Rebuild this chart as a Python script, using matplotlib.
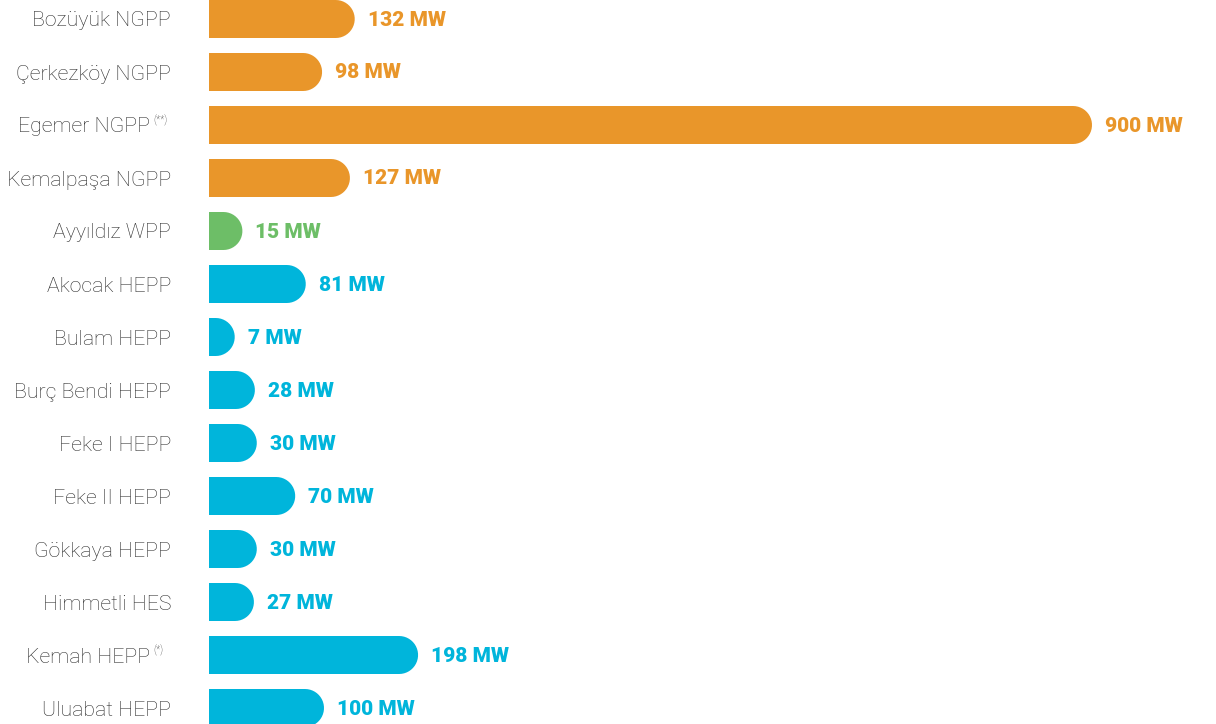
import matplotlib
matplotlib.use("Agg")
import matplotlib.pyplot as plt
from matplotlib.path import Path
from matplotlib.patches import PathPatch
import numpy as np

categories = ["Bozüyük NGPP", "Çerkezköy NGPP", "Egemer NGPP", "Kemalpaşa NGPP",
              "Ayyıldız WPP", "Akocak HEPP", "Bulam HEPP", "Burç Bendi HEPP",
              "Feke I HEPP", "Feke II HEPP", "Gökkaya HEPP", "Himmetli HES",
              "Kemah HEPP", "Uluabat HEPP"]
footnotes = ["", "", "(**)", "", "", "", "", "", "", "", "", "", "(*)", ""]
values = [132, 98, 900, 127, 15, 81, 7, 28, 30, 70, 30, 27, 198, 100]
types = ["NGPP", "NGPP", "NGPP", "NGPP", "WPP", "HEPP", "HEPP", "HEPP",
         "HEPP", "HEPP", "HEPP", "HEPP", "HEPP", "HEPP"]
colors = {"NGPP": "#E9962A", "WPP": "#6DBE67", "HEPP": "#00B5DB"}

W, H, DPI = 1216, 724, 100
fig = plt.figure(figsize=(W / DPI, H / DPI), dpi=DPI)
left_px = 209
ax = fig.add_axes([left_px / W, 0, 1 - left_px / W, 1])
ax.set_axis_off()

px_per_mw = 0.96
row_px = 53
xmax = (W - left_px) / px_per_mw
ax.set_xlim(0, xmax)
ax.set_ylim((H - 19) / row_px, -19 / row_px)

bar_h = 38 / row_px
ry = bar_h / 2
rx = ry * row_px / px_per_mw  # semicircle radius in x data units

for i, (v, t) in enumerate(zip(values, types)):
    y = i
    n = 24
    theta = np.linspace(np.pi / 2, -np.pi / 2, n)
    xs = [0, v] + list(v + rx * np.cos(theta)) + [v, 0, 0]
    ys = [y - ry, y - ry] + list(y - ry * np.sin(theta)) + [y + ry, y + ry, y - ry]
    verts = list(zip(xs, ys))
    codes = [Path.MOVETO] + [Path.LINETO] * (len(verts) - 2) + [Path.CLOSEPOLY]
    ax.add_patch(PathPatch(Path(verts, codes), facecolor=colors[t], edgecolor="none"))
    ax.annotate(f"{v} MW", xy=(v + rx, y), xytext=(13, -1), textcoords="offset pixels",
                ha="left", va="center", fontsize=15, fontweight="black",
                family="Roboto", color=colors[t])

lab_kw = dict(textcoords="offset pixels", va="center", family="Roboto",
              fontweight="light", color="#2b2b2b", annotation_clip=False)
for i, (c, fn) in enumerate(zip(categories, footnotes)):
    if fn:
        ax.annotate(c, xy=(0, i), xytext=(-59, -2), ha="right", fontsize=15.3, **lab_kw)
        ax.annotate(fn, xy=(0, i), xytext=(-56, 5), ha="left", fontsize=7, **lab_kw)
    else:
        ax.annotate(c, xy=(0, i), xytext=(-38, -2), ha="right", fontsize=15.3, **lab_kw)

fig.savefig("out.png", dpi=DPI)
